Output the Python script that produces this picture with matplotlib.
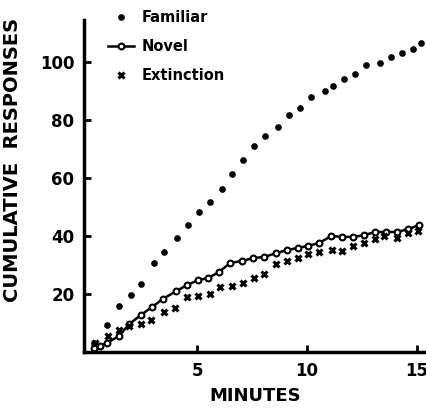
import matplotlib
matplotlib.use('Agg')
import matplotlib.pyplot as plt

# ─── Data (minutes, cumulative responses) ───
familiar_min = [0.3, 0.9, 1.45, 2.0, 2.45, 3.05, 3.5, 4.1, 4.6, 5.1,
                5.6, 6.15, 6.6, 7.1, 7.6, 8.1, 8.7, 9.2, 9.7, 10.2,
                10.8, 11.2, 11.7, 12.2, 12.7, 13.3, 13.8, 14.3, 14.8, 15.2]
familiar_resp = [3.0, 9.3, 15.9, 19.7, 23.4, 30.7, 34.5, 39.3, 43.8, 48.3,
                 51.7, 56.2, 61.4, 66.2, 71.0, 74.5, 77.6, 81.7, 84.1, 87.9,
                 90.0, 91.7, 94.1, 95.9, 99.0, 99.7, 101.7, 103.1, 104.5, 106.6]

novel_min = [0.3, 0.6, 0.9, 1.45, 1.9, 2.45, 2.95, 3.45, 4.05, 4.55,
             5.05, 5.5, 6.0, 6.5, 7.05, 7.55, 8.05, 8.6, 9.1, 9.6,
             10.05, 10.55, 11.1, 11.6, 12.1, 12.6, 13.1, 13.6, 14.1, 14.6, 15.1]
novel_resp = [1.5, 2.1, 3.1, 5.5, 9.5, 12.8, 15.5, 18.3, 21.0, 23.1,
              24.8, 25.5, 27.6, 30.7, 31.4, 32.4, 32.8, 34.1, 35.2, 35.9,
              36.6, 37.6, 40.0, 39.7, 39.7, 40.3, 41.4, 41.4, 41.4, 42.4, 43.8]

ext_min = [0.35, 0.95, 1.45, 1.9, 2.45, 2.9, 3.5, 4.0, 4.55, 5.05,
           5.6, 6.05, 6.6, 7.1, 7.6, 8.05, 8.6, 9.1, 9.6, 10.05,
           10.55, 11.15, 11.6, 12.1, 12.6, 13.1, 13.5, 14.1, 14.6, 15.05]
ext_resp = [3.1, 5.5, 7.5, 9.0, 9.7, 11.0, 13.8, 15.2, 19.0, 19.3,
            20.0, 22.4, 22.8, 23.8, 25.5, 26.9, 30.3, 31.4, 32.4, 33.8,
            34.5, 35.2, 34.8, 36.6, 37.6, 39.0, 40.0, 39.3, 41.0, 41.7]

x_ticks = [5, 10, 15]
y_ticks = [20, 40, 60, 80, 100]

plt.rcParams['font.family'] = 'DejaVu Sans'
plt.rcParams['font.weight'] = 'bold'

W, H = 427, 411
fig = plt.figure(figsize=(W / 100, H / 100), dpi=100)
ax = fig.add_axes([84 / W, 59 / H, (W - 84) / W, (352 - 20) / H])

h_fam, = ax.plot(familiar_min, familiar_resp, 'o', color='black',
                 markersize=3.8, linestyle='none', label='Familiar')
h_nov, = ax.plot(novel_min, novel_resp, 'o-', color='black', linewidth=1.8,
                 markersize=4.2, markerfacecolor='white', markeredgewidth=1.5,
                 label='Novel')
h_ext, = ax.plot(ext_min, ext_resp, 'x', color='black', markersize=5,
                 markeredgewidth=2.2, linestyle='none', label='Extinction')

ax.set_xlim(-0.14, 15.45)
ax.set_ylim(0, 114.5)
ax.set_xticks(x_ticks)
ax.set_yticks(y_ticks)
ax.tick_params(direction='in', length=5, width=2, labelsize=12, pad=7)
for s in ['top', 'right']:
    ax.spines[s].set_visible(False)
for s in ['left', 'bottom']:
    ax.spines[s].set_linewidth(2.5)
for lab in ax.get_xticklabels() + ax.get_yticklabels():
    lab.set_fontweight('bold')

ax.set_xlabel('MINUTES', fontsize=13, fontweight='bold', labelpad=5)
ax.set_ylabel('CUMULATIVE  RESPONSES', fontsize=14, fontweight='bold')
ax.yaxis.set_label_coords(-0.18, 0.58)

fig.legend(handles=[h_fam, h_nov, h_ext], loc='upper left',
           bbox_to_anchor=(108 / W, 1 - 10 / H), frameon=False,
           handlelength=1.8, handletextpad=0.5,
           labelspacing=0.95, borderpad=0, borderaxespad=0,
           prop={'weight': 'bold', 'size': 10.5})

fig.savefig('out.png', dpi=100)
